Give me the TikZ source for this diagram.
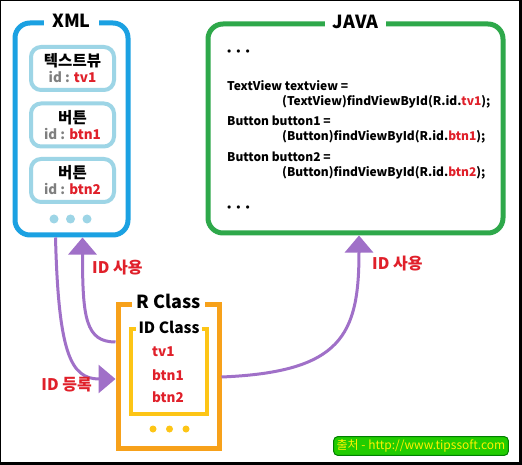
\documentclass[tikz,border=0pt]{standalone}
\usepackage{fontspec}
\setmainfont{Noto Sans CJK KR}
\usetikzlibrary{calc,positioning,arrows.meta}
\definecolor{xmlblue}{HTML}{1BA1E2}
\definecolor{itemblue}{HTML}{9DD5E6}
\definecolor{javagreen}{HTML}{2EA84A}
\definecolor{rorange}{HTML}{F7A11A}
\definecolor{idyellow}{HTML}{FDC516}
\definecolor{linkpurple}{HTML}{A070C8}
\definecolor{idred}{HTML}{E0202A}
\definecolor{idgray}{HTML}{7F7F7F}
\definecolor{markgreen}{HTML}{22CC00}
\newcommand{\idtext}[1]{{\color{idgray}id :} {\color{idred}#1}}
\newcommand{\codedots}{{\fontsize{8}{8}\selectfont$\bullet$\hspace{5pt}$\bullet$\hspace{5pt}$\bullet$}}
\newcommand{\dotrow}[3]{
  \foreach \i in {0,1,2} {
    \fill[#1] ($ #3 + (\i*16.5,0) $) circle (#2);
  }
}
\tikzset{
  panel/.style={draw=#1, line width=5pt, rounded corners=15pt, inner sep=0pt},
  title/.style={fill=white, inner xsep=8pt, inner ysep=1pt, font=\bfseries\fontsize{18}{18}\selectfont},
  item/.style={draw=itemblue, line width=4pt, rounded corners=10pt, minimum width=83pt,
    minimum height=43pt, inner sep=0pt, align=center, font=\bfseries\fontsize{15.5}{17}\selectfont},
  code/.style={align=left, inner sep=0pt, font=\bfseries\fontsize{12}{15}\selectfont},
  link/.style={draw=linkpurple, line width=3pt, -{Triangle[length=17pt,width=28pt]}},
  linklabel/.style={text=idred, inner sep=0pt, font=\bfseries\fontsize{16}{16}\selectfont},
}

\begin{document}
\begin{tikzpicture}[x=1pt,y=-1pt]
  % frame
  \fill[black] (0,0) rectangle (522,465);
  \fill[white] (1,1) rectangle (519,462);

  % XML side
  \node[panel=xmlblue, minimum width=113pt, minimum height=212pt] (xml) at (71.5,129) {};
  \node[title] at (xml.north) {XML};
  \foreach[count=\i] \name/\y/\id in {텍스트뷰/68.5/tv1,버튼/125/btn1,버튼/180.5/btn2} {
    \node[item] (item\i) at (72.5,\y) {\name\\[-1pt]{\fontsize{13.5}{13.5}\selectfont\idtext{\id}}};
  }
  \dotrow{itemblue}{4.5pt}{(54,219)}

  % JAVA side
  \node[panel=javagreen, minimum width=295pt, minimum height=209pt] (java) at (355.5,128.5) {};
  \node[title] at (java.north) {JAVA};
  \node[code, anchor=west] (top) at (227,52) {\codedots};
  \node[code, anchor=north west] (code1) at (227,80)
    {TextView textview =\\\hspace*{55pt}(TextView)findViewById(R.id.{\color{idred}tv1});};
  \node[code, below=8pt of code1.south west, anchor=north west] (code2)
    {Button button1 =\\\hspace*{55pt}(Button)findViewById(R.id.{\color{idred}btn1});};
  \node[code, below=8pt of code2.south west, anchor=north west] (code3)
    {Button button2 =\\\hspace*{55pt}(Button)findViewById(R.id.{\color{idred}btn2});};
  \node[code, anchor=west] (bottom) at (227,208) {\codedots};

  % R class
  \node[draw=rorange, line width=5pt, minimum width=101pt, minimum height=144pt] (rclass) at (168.5,376) {};
  \node[title, inner xsep=4pt] at (rclass.north) {R Class};
  \node[draw=idyellow, line width=4pt, minimum width=76pt, minimum height=85pt] (idclass) at (169,371.5) {};
  \node[title, inner xsep=3pt, font=\bfseries\fontsize{15.5}{15.5}\selectfont] at (idclass.north) {ID Class};
  \foreach \name/\y in {tv1/352,btn1/375,btn2/397} {
    \node[linklabel, anchor=west, font=\bfseries\fontsize{13.5}{13.5}\selectfont] at (152,\y) {\name};
  }
  \dotrow{idyellow}{3.5pt}{(153,429)}

  % links
  \draw[link] ([xshift=-16pt]xml.south) .. controls +(3,115) and +(-45,0) .. ([yshift=-3pt]rclass.west);
  \draw[link] ([yshift=34pt]rclass.west) .. controls +(-30,0) and +(0,80) .. ([xshift=11pt]xml.south);
  \draw[link] ([yshift=-1pt]rclass.east) .. controls +(120,-5) and +(0,100) .. ([xshift=3.5pt]java.south);
  \node[linklabel, anchor=west] at (92,268) {ID 사용};
  \node[linklabel, anchor=east] at (92,385) {ID 등록};
  \node[linklabel, anchor=west] at (372,264) {ID 사용};

  % source mark
  \node[fill=markgreen, draw=green!50!black, line width=1pt, rounded corners=4pt, inner xsep=3pt, inner ysep=3pt,
    text=yellow, font=\fontsize{12}{12}\selectfont] at (421,446) {출처 - http://www.tipssoft.com};
\end{tikzpicture}
\end{document}
